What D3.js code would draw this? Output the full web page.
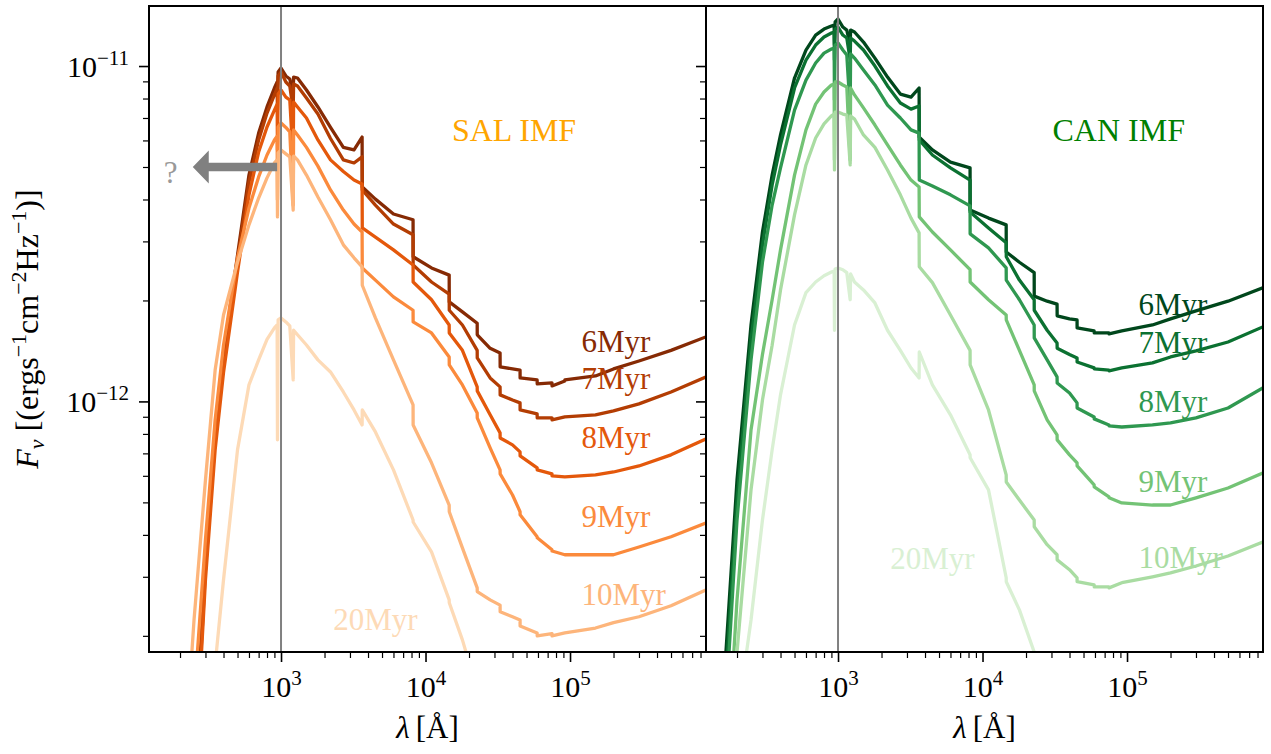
<!DOCTYPE html>
<html>
<head>
<meta charset="utf-8">
<script src="https://cdn.jsdelivr.net/npm/d3@7/dist/d3.min.js"></script>
<style>
  html, body { margin: 0; padding: 0; background: #ffffff; }
  svg { display: block; font-family: "Liberation Serif", "Times New Roman", Times, "DejaVu Serif", serif; }
  svg text { font-family: "Liberation Serif", "Times New Roman", Times, "DejaVu Serif", serif; }
</style>
</head>
<body>
<svg id="chart" width="1271" height="754"></svg>
<script>
// Wavelength grid (Angstrom) shared by every spectrum
const wavelength = [150, 200, 250, 300, 350, 400, 500, 600, 700, 800, 900, 940, 945, 955, 1000, 1080, 1150, 1214, 1222, 1300,
  1500, 1800, 2200, 2700, 3200, 3640, 3650, 4500, 6000, 8200, 8210, 11000, 14580, 14600, 18000, 22780, 22800, 28000,
  32800, 32850, 40000, 45100, 45150, 59200, 59300, 75000, 75100, 92000, 92100, 150000, 200000, 300000, 500000, 870000];

// F_nu in units of 1e-12 erg s^-1 cm^-2 Hz^-1 -- Salpeter IMF
const salFlux6 = [null, null, 0.080, 0.337, 0.822, 1.38, 2.73, 4.73, 6.31, 7.55, 8.60, 8.96, 8.20, 9.60, 9.86, 9.34, 9.15, 8.20, 9.27, 9.21,
  8.48, 7.55, 6.56, 5.72, 5.62, 6.14, 4.36, 4.01, 3.62, 3.48, 2.70, 2.50, 2.38, 1.98, 1.85, 1.71, 1.58, 1.44,
  1.395, 1.267, 1.25, 1.24, 1.175, 1.159, 1.128, 1.135, 1.112, 1.151, 1.159, 1.191, 1.25, 1.32, 1.42, 1.557];
const salFlux7 = [null, null, 0.074, 0.315, 0.768, 1.31, 2.64, 4.51, 6.02, 7.24, 8.20, 8.60, 7.39, 9.34, 9.60, 8.96, 8.72, 7.39, 8.84, 8.72,
  8.03, 7.19, 6.08, 5.25, 5.14, 5.36, 4.27, 3.85, 3.38, 3.14, 2.55, 2.27, 2.09, 1.87, 1.69, 1.42, 1.348, 1.175,
  1.105, 1.046, 1.010, 0.990, 0.943, 0.918, 0.893, 0.893, 0.881, 0.899, 0.899, 0.912, 0.937, 0.983, 1.067, 1.183];
const salFlux8 = [null, null, 0.070, 0.294, 0.717, 1.22, 2.43, 4.13, 5.54, 6.58, 7.39, 7.70, 5.62, 8.25, 8.48, 8.08, 7.92, 5.25, 7.81, 7.55,
  7.00, 6.02, 5.25, 4.85, 4.57, 4.45, 3.29, 3.09, 2.83, 2.55, 2.27, 2.01, 1.69, 1.60, 1.42, 1.105, 1.075, 0.912,
  0.806, 0.778, 0.742, 0.707, 0.688, 0.634, 0.625, 0.608, 0.600, 0.596, 0.596, 0.604, 0.616, 0.642, 0.693, 0.773];
const salFlux9 = [null, null, 0.129, 0.387, 0.881, 1.47, 2.68, 3.77, 4.67, 5.43, 6.02, 6.18, 3.99, 6.58, 6.76, 6.56, 6.36, 3.85, 6.45, 6.23,
  5.72, 5.03, 4.27, 3.72, 3.38, 3.20, 2.50, 2.30, 2.05, 1.87, 1.726, 1.60, 1.357, 1.285, 1.120, 0.924, 0.893, 0.727,
  0.625, 0.608, 0.526, 0.469, 0.459, 0.395, 0.392, 0.361, 0.358, 0.349, 0.349, 0.349, 0.349, 0.368, 0.395, 0.434];
const salFlux10 = [null, 0.053, 0.223, 0.583, 1.24, 1.81, 2.60, 3.36, 4.04, 4.64, 5.14, 5.25, 3.55, 5.51, 5.62, 5.47, 5.36, 3.72, 5.39, 5.25,
  4.73, 4.07, 3.48, 2.93, 2.68, 2.52, 2.22, 1.774, 1.33, 0.976, 0.851, 0.656, 0.491, 0.469, 0.366, 0.278, 0.271, 0.256,
  0.247, 0.236, 0.228, 0.223, 0.214, 0.204, 0.200, 0.203, 0.200, 0.204, 0.204, 0.211, 0.219, 0.228, 0.246, 0.274];
const salFlux20 = [null, null, null, null, 0.164, 0.294, 0.717, 1.120, 1.33, 1.53, 1.656, 1.69, 0.768, 1.75, 1.774, 1.726, 1.679, 1.159, 1.63, 1.58,
  1.473, 1.33, 1.224, 1.067, 0.943, 0.851, 0.943, 0.811, 0.625, 0.443, 0.437, 0.356, 0.256, 0.251, 0.1945, 0.138, null, null,
  null, null, null, null, null, null, null, null, null, null, null, null, null, null, null, null];

// F_nu in units of 1e-12 erg s^-1 cm^-2 Hz^-1 -- CAN IMF
const canFlux6 = [0.085, 0.583, 1.69, 3.20, 4.73, 6.23, 9.21, 11.16, 12.37, 12.89, 13.16, 13.25, 11.55, 13.53, 13.81, 13.07, 12.80, 11.55, 12.80, 12.63,
  11.79, 10.56, 9.27, 8.25, 8.08, 8.60, 6.14, 5.62, 5.17, 4.97, 3.72, 3.52, 3.36, 2.79, 2.60, 2.42, 2.06, 1.99,
  1.95, 1.80, 1.762, 1.75, 1.656, 1.622, 1.600, 1.600, 1.589, 1.622, 1.622, 1.69, 1.762, 1.861, 1.99, 2.18];
const canFlux7 = [0.070, 0.508, 1.53, 2.93, 4.42, 5.82, 8.60, 10.42, 11.55, 12.20, 12.54, 12.63, 10.42, 12.89, 13.07, 12.37, 12.12, 10.42, 12.12, 11.87,
  11.16, 10.00, 8.72, 7.76, 7.44, 7.60, 6.02, 5.43, 4.97, 4.57, 3.67, 3.29, 2.97, 2.70, 2.30, 2.01, 1.87, 1.63,
  1.494, 1.44, 1.38, 1.348, 1.311, 1.259, 1.25, 1.24, 1.233, 1.259, 1.259, 1.303, 1.357, 1.414, 1.504, 1.668];
const canFlux8 = [0.057, 0.443, 1.33, 2.60, 3.85, 4.97, 7.39, 9.08, 10.21, 10.93, 11.24, 11.32, 7.92, 11.55, 11.71, 11.16, 10.78, 7.39, 10.86, 10.56,
  9.73, 8.78, 7.65, 7.00, 6.45, 6.31, 4.57, 4.39, 4.13, 3.83, 3.16, 2.87, 2.50, 2.30, 2.01, 1.69, 1.546, 1.33,
  1.183, 1.135, 1.060, 0.990, 0.956, 0.899, 0.887, 0.851, 0.845, 0.839, 0.839, 0.851, 0.863, 0.893, 0.956, 1.097];
const canFlux9 = [0.033, 0.256, 0.822, 1.38, 2.01, 2.83, 4.73, 6.45, 7.70, 8.37, 8.78, 8.84, 5.25, 8.96, 8.96, 8.78, 8.66, 5.25, 8.60, 8.20,
  7.50, 6.67, 5.82, 5.07, 4.57, 4.36, 3.55, 3.20, 2.83, 2.47, 2.27, 2.01, 1.81, 1.75, 1.42, 1.120, 1.075, 0.881,
  0.795, 0.768, 0.693, 0.656, 0.642, 0.564, 0.556, 0.519, 0.516, 0.498, 0.498, 0.491, 0.491, 0.516, 0.552, 0.612];
const canFlux10 = [0.016, 0.179, 0.545, 1.010, 1.47, 2.15, 3.60, 5.07, 6.10, 6.72, 7.10, 7.19, 4.90, 7.29, 7.29, 7.19, 7.14, 5.07, 7.10, 6.95,
  6.23, 5.72, 4.90, 4.13, 3.52, 3.18, 2.52, 2.26, 1.81, 1.42, 1.285, 0.943, 0.604, 0.575, 0.508, 0.443, 0.423, 0.374,
  0.349, 0.337, 0.315, 0.298, 0.290, 0.284, 0.280, 0.280, 0.278, 0.288, 0.288, 0.300, 0.308, 0.323, 0.346, 0.381];
const canFlux20 = [null, 0.112, 0.223, 0.443, 0.717, 1.046, 1.69, 2.11, 2.27, 2.37, 2.43, 2.45, 1.63, 2.48, 2.50, 2.47, 2.42, 2.01, 2.40, 2.27,
  2.15, 1.966, 1.63, 1.42, 1.258, 1.175, 1.404, 1.120, 0.912, 0.693, 0.679, 0.545, 0.298, 0.290, 0.239, 0.179, 0.170, 0.129,
  null, null, null, null, null, null, null, null, null, null, null, null, null, null, null, null];

const ages = ["6Myr", "7Myr", "8Myr", "9Myr", "10Myr", "20Myr"];
const salColors = ["#862a04", "#b33d03", "#e4580b", "#fb8a3c", "#fdb57b", "#fddab6"];
const canColors = ["#00471c", "#0b7131", "#2f9850", "#73c375", "#a9dca2", "#d9f0d3"];

// Age labels: wavelength of the left edge and flux of the baseline
const labelWavelength = [1.2e5, 1.2e5, 1.2e5, 1.2e5, 1.2e5, 2300];
const salLabelFlux = [1.404, 1.090, 0.727, 0.4226, 0.247, 0.2085];
const canLabelFlux = [1.811, 1.395, 0.930, 0.537, 0.319, 0.317];

const xTickValues = [1e3, 1e4, 1e5];
const yTickValues = [1e-12, 1e-11];
const lambdaDomain = [122, 8.73e5];
const fluxDomain = [1.79e-13, 1.51e-11];
const FLUX_UNIT = 1e-12;
const markerWavelength = 1000;

// Arrow pointing blueward from the 1000 A marker
const arrowTail = 940, arrowTip = 245, arrowFlux = 5.0e-12;
const questionWavelength = 172, questionFlux = 4.48e-12;

const SERIF = "'Liberation Serif', 'Times New Roman', Times, 'DejaVu Serif', serif";

const panels = [
  { title: "SAL IMF", titleColor: "#ffa500", titleWavelength: 15240, titleFlux: 5.98e-12,
    fluxes: [salFlux6, salFlux7, salFlux8, salFlux9, salFlux10, salFlux20],
    colors: salColors, labelFlux: salLabelFlux, left: 149, right: 706, yLabels: true, arrow: true },
  { title: "CAN IMF", titleColor: "#008000", titleWavelength: 30480, titleFlux: 5.98e-12,
    fluxes: [canFlux6, canFlux7, canFlux8, canFlux9, canFlux10, canFlux20],
    colors: canColors, labelFlux: canLabelFlux, left: 706, right: 1263, yLabels: false, arrow: false }
];

const plotTop = 6, plotBottom = 652;
const svg = d3.select("#chart").attr("font-family", SERIF);
const y = d3.scaleLog().domain(fluxDomain).range([plotBottom, plotTop]);

function minorTicks(domain) {
  const out = [];
  const d0 = Math.floor(Math.log10(domain[0])), d1 = Math.ceil(Math.log10(domain[1]));
  for (let d = d0; d <= d1; d++) {
    for (let k = 2; k <= 9; k++) {
      const v = k * Math.pow(10, d);
      if (v >= domain[0] && v <= domain[1]) out.push(v);
    }
  }
  return out;
}

function powerLabel(sel, base, exp, supDy) {
  sel.text(null);
  sel.append("tspan").text(base);
  sel.append("tspan").attr("dy", supDy).attr("font-size", 21).text(exp);
}

panels.forEach((p, pi) => {
  const x = d3.scaleLog().domain(lambdaDomain).range([p.left, p.right]);
  const clipId = "plotclip" + pi;
  svg.append("clipPath").attr("id", clipId)
    .append("rect").attr("x", p.left).attr("y", plotTop)
    .attr("width", p.right - p.left).attr("height", plotBottom - plotTop);

  const plot = svg.append("g").attr("clip-path", `url(#${clipId})`);
  const line = d3.line()
    .defined(d => d[1] != null)
    .x(d => x(d[0]))
    .y(d => y(d[1] * FLUX_UNIT));

  p.fluxes.forEach((f, i) => {
    const pts = wavelength.map((w, k) => [w, f[k]]);
    plot.append("path").datum(pts)
      .attr("d", line)
      .attr("fill", "none")
      .attr("stroke", p.colors[i])
      .attr("stroke-width", 3.3)
      .attr("stroke-linejoin", "round");
  });

  // 1000 A reference line
  plot.append("line")
    .attr("x1", x(markerWavelength)).attr("x2", x(markerWavelength))
    .attr("y1", plotTop).attr("y2", plotBottom)
    .attr("stroke", "#808080").attr("stroke-width", 2);

  // age labels
  ages.forEach((a, i) => {
    svg.append("text")
      .attr("x", x(labelWavelength[i]))
      .attr("y", y(p.labelFlux[i] * FLUX_UNIT))
      .attr("font-family", SERIF)
      .attr("font-size", 31)
      .attr("fill", p.colors[i])
      .text(a);
  });

  // panel title
  svg.append("text")
    .attr("x", x(p.titleWavelength))
    .attr("y", y(p.titleFlux))
    .attr("font-family", SERIF)
    .attr("font-size", 32)
    .attr("fill", p.titleColor)
    .text(p.title);

  if (p.arrow) {
    const xt = x(arrowTail), xh = x(arrowTip), ya = y(arrowFlux);
    const shaft = 4.3, head = 16.5, headLen = 16;
    const pts = [[xt, ya - shaft], [xh + headLen, ya - shaft], [xh + headLen, ya - head], [xh, ya],
                 [xh + headLen, ya + head], [xh + headLen, ya + shaft], [xt, ya + shaft]];
    svg.append("path").attr("d", "M" + pts.map(q => q.join(",")).join("L") + "Z")
      .attr("fill", "#808080");
    svg.append("text")
      .attr("x", x(questionWavelength)).attr("y", y(questionFlux))
      .attr("text-anchor", "middle").attr("font-family", SERIF)
      .attr("font-size", 31).attr("fill", "#999999")
      .text("?");
  }

  // x axis: major and minor ticks
  const xMajor = svg.append("g").attr("transform", `translate(0,${plotBottom})`)
    .call(d3.axisBottom(x).tickValues(xTickValues).tickSize(10).tickFormat(() => ""))
    .attr("font-family", SERIF);
  xMajor.select(".domain").remove();
  xMajor.selectAll(".tick line").attr("stroke", "#000").attr("stroke-width", 1.6);
  xMajor.selectAll(".tick text")
    .attr("y", 45).attr("dy", null)
    .attr("font-size", 30).attr("font-family", SERIF).attr("fill", "#000")
    .each(function (d) { powerLabel(d3.select(this), "10", String(Math.round(Math.log10(d))), -12); });

  const xMinor = svg.append("g").attr("transform", `translate(0,${plotBottom})`)
    .call(d3.axisBottom(x).tickValues(minorTicks(lambdaDomain)).tickSize(6).tickFormat(() => ""));
  xMinor.select(".domain").remove();
  xMinor.selectAll(".tick line").attr("stroke", "#000").attr("stroke-width", 1.2);

  // y axis on the left spine of each panel
  const yMajor = svg.append("g").attr("transform", `translate(${p.left},0)`)
    .call(d3.axisLeft(y).tickValues(yTickValues).tickSize(10).tickFormat(() => ""))
    .attr("font-family", SERIF);
  yMajor.select(".domain").remove();
  yMajor.selectAll(".tick line").attr("stroke", "#000").attr("stroke-width", 1.6);
  if (p.yLabels) {
    yMajor.selectAll(".tick text")
      .attr("x", -20).attr("dy", null).attr("y", 10)
      .attr("font-size", 30).attr("font-family", SERIF).attr("fill", "#000")
      .each(function (d) { powerLabel(d3.select(this), "10", "\u2212" + String(-Math.round(Math.log10(d))), -12); });
  } else {
    yMajor.selectAll(".tick text").remove();
  }
  const yMinor = svg.append("g").attr("transform", `translate(${p.left},0)`)
    .call(d3.axisLeft(y).tickValues(minorTicks(fluxDomain)).tickSize(6).tickFormat(() => ""));
  yMinor.select(".domain").remove();
  yMinor.selectAll(".tick line").attr("stroke", "#000").attr("stroke-width", 1.2);

  // frame
  svg.append("rect")
    .attr("x", p.left).attr("y", plotTop)
    .attr("width", p.right - p.left).attr("height", plotBottom - plotTop)
    .attr("fill", "none").attr("stroke", "#000").attr("stroke-width", 2);

  // x axis label
  const xl = svg.append("text")
    .attr("x", (p.left + p.right) / 2).attr("y", 738)
    .attr("text-anchor", "middle").attr("font-family", SERIF)
    .attr("font-size", 31).attr("fill", "#000");
  xl.append("tspan").attr("font-style", "italic").text("\u03bb");
  xl.append("tspan").text("\u2009[\u00c5]");
});

// y axis label
const yl = svg.append("text")
  .attr("transform", `translate(38,${(plotTop + plotBottom) / 2}) rotate(-90)`)
  .attr("text-anchor", "middle").attr("font-family", SERIF)
  .attr("font-size", 32).attr("fill", "#000");
yl.append("tspan").attr("font-style", "italic").text("F");
yl.append("tspan").attr("font-style", "italic").attr("font-size", 22).attr("dy", 6).text("\u03bd");
yl.append("tspan").attr("dy", -6).text(" [(ergs");
yl.append("tspan").attr("font-size", 22).attr("dy", -12).text("\u22121");
yl.append("tspan").attr("dy", 12).text("cm");
yl.append("tspan").attr("font-size", 22).attr("dy", -12).text("\u22122");
yl.append("tspan").attr("dy", 12).text("Hz");
yl.append("tspan").attr("font-size", 22).attr("dy", -12).text("\u22121");
yl.append("tspan").attr("dy", 12).text(")]");
</script>
</body>
</html>
